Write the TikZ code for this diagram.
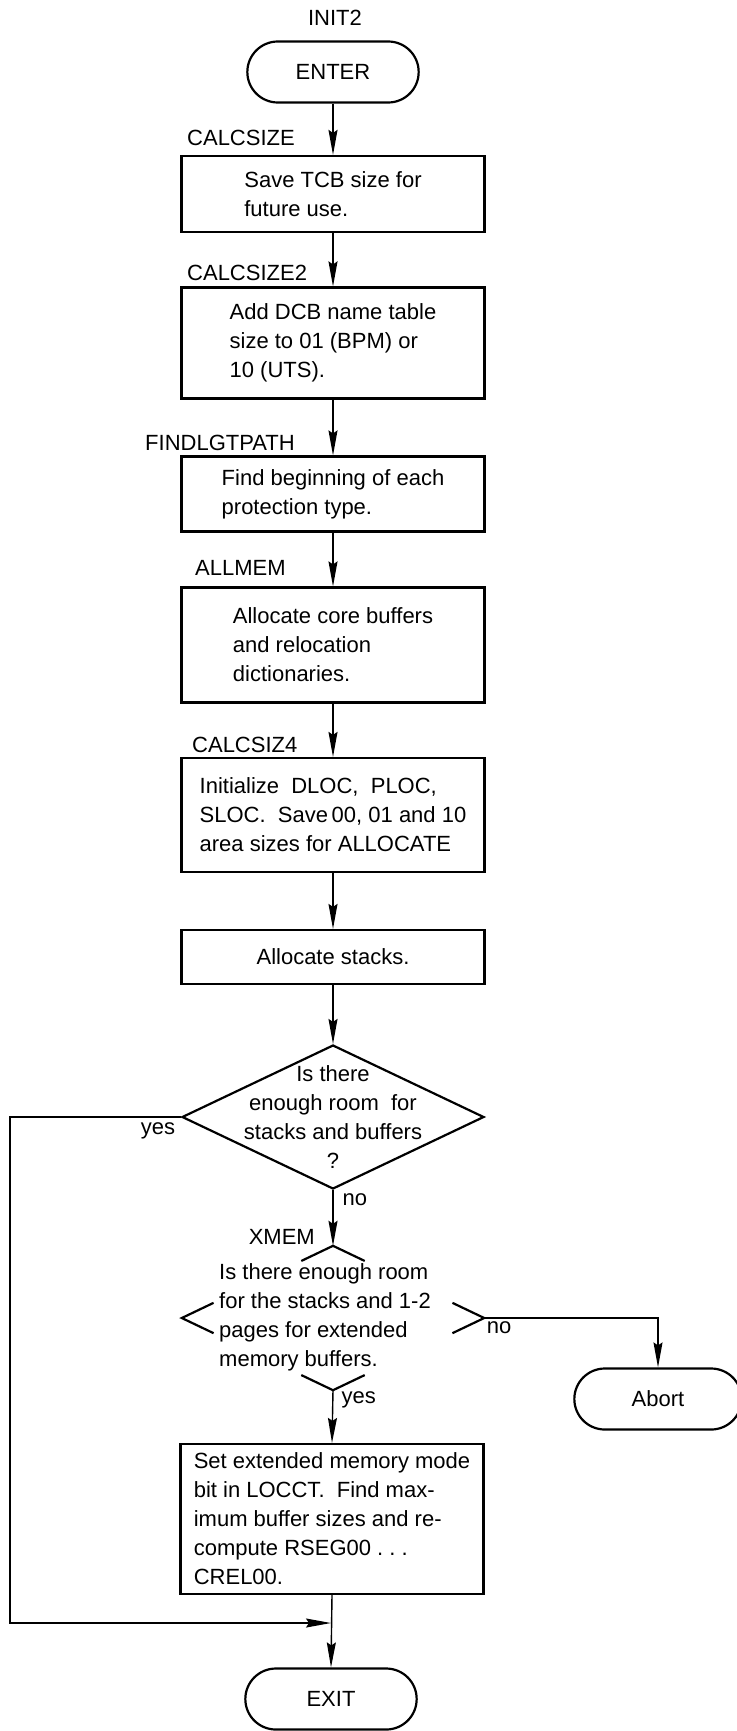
\documentclass[tikz,border=0pt]{standalone}
\usepackage{fontspec}
\setmainfont{Liberation Sans}
\usetikzlibrary{arrows.meta,shapes.geometric,shapes.misc,calc}

\begin{document}
\begin{tikzpicture}[x=1pt, y=-1pt,
    every node/.style={font=\fontsize{22}{29}\selectfont},
    procbox/.style={draw, line width=2.2pt, minimum width=303pt, align=left, inner sep=0pt},
    termbox/.style={draw, rounded rectangle, line width=2.2pt, minimum width=178pt, minimum height=61pt},
    decision/.style={diamond, minimum width=302pt, minimum height=144pt, inner sep=0pt},
    tag/.style={anchor=west, inner sep=0pt},
    lbl/.style={inner sep=0pt},
    flow/.style={line width=1.4pt, -{Stealth[length=25pt,width=9pt,inset=3pt]}}]
    \useasboundingbox (0,0) rectangle (736,1731);
    \node (init2) at (335,18) {INIT2};
    \node[termbox] (enter) at (333,72) {ENTER};
    \node[tag] (lcalcsize) at (187,138) {CALCSIZE};
    \node[procbox, minimum height=76pt] (calcsize) at (333,194) {Save TCB size for\\future use.};
    \node[tag] (lcalcsize2) at (187,273) {CALCSIZE2};
    \node[procbox, minimum height=111pt] (calcsize2) at (333,343) {Add DCB name table\\size to 01 (BPM) or\\10 (UTS).};
    \node[tag] (lfindlgt) at (145,443) {FINDLGTPATH};
    \node[procbox, minimum height=75pt] (findlgt) at (333,494) {Find beginning of each\\protection type.};
    \node[tag] (lallmem) at (195,568) {ALLMEM};
    \node[procbox, minimum height=115pt] (allmem) at (333,645) {Allocate core buffers\\and relocation\\dictionaries.};
    \node[tag] (lcalcsiz4) at (192,745) {CALCSIZ4};
    \node[procbox, minimum height=114pt] (calcsiz4) at (333,815) {Initialize\ \ DLOC,\ \ PLOC,\\SLOC.\ \ Save\,00, 01 and 10\\area sizes for ALLOCATE};
    \node[procbox, minimum height=54pt] (stacks) at (333,957) {Allocate stacks.};
    \node[decision, draw, line width=2.2pt] (room) at (333,1117) {};
    \node[align=center, inner sep=0pt] (roomtxt) at (room.center) {Is there\\enough room\ \ for\\stacks and buffers\\?};
    \node[tag, anchor=east] (lxmem) at (315,1237) {XMEM};
    \node[decision] (xmem) at (333,1318) {};
    \foreach \c/\a/\b in {north/west/east, south/west/east, west/north/south, east/north/south}
        \draw[line width=2.2pt] ($(xmem.\c)!0.21!(xmem.\a)$) -- (xmem.\c) -- ($(xmem.\c)!0.21!(xmem.\b)$);
    \node[tag, align=left] (xmemtxt) at (219,1317) {Is there enough room\\for the stacks and 1-2\\pages for extended\\memory buffers.};
    \node[termbox, minimum width=174pt] (abort) at (658,1399) {Abort};
    \node[procbox, minimum height=150pt] (setmode) at (332,1519) {Set extended memory mode\\bit in LOCCT.\ \ Find max-\\imum buffer sizes and re-\\compute RSEG00 .\ .\ .\\CREL00.};
    \node[termbox] (exit) at (331,1699) {EXIT};
    \coordinate (join) at (331,1623);
    \foreach \a/\b in {enter/calcsize, calcsize/calcsize2, calcsize2/findlgt, findlgt/allmem, allmem/calcsiz4, calcsiz4/stacks, stacks/room}
        \draw[flow] (\a.south) -- (\b.north);
    \draw[flow] (room.south) -- node[lbl, pos=0.17, anchor=west, xshift=9pt] (no1) {no} (xmem.north);
    \draw[flow] (room.west) -- node[lbl, at start, anchor=north east, xshift=-5pt, yshift=-5pt] (yes1) {yes} ++(-171,0) |- (join);
    \draw[flow] (xmem.east) -| node[lbl, at start, anchor=north west, xshift=2pt, yshift=-3pt] (no2) {no} (abort.north);
    \draw[flow] (xmem.south) -- node[lbl, at start, anchor=north west, xshift=8pt, yshift=-1pt] (yes2) {yes} (setmode.north);
    \draw[flow] (setmode.south) -- (exit.north);
\end{tikzpicture}
\end{document}
